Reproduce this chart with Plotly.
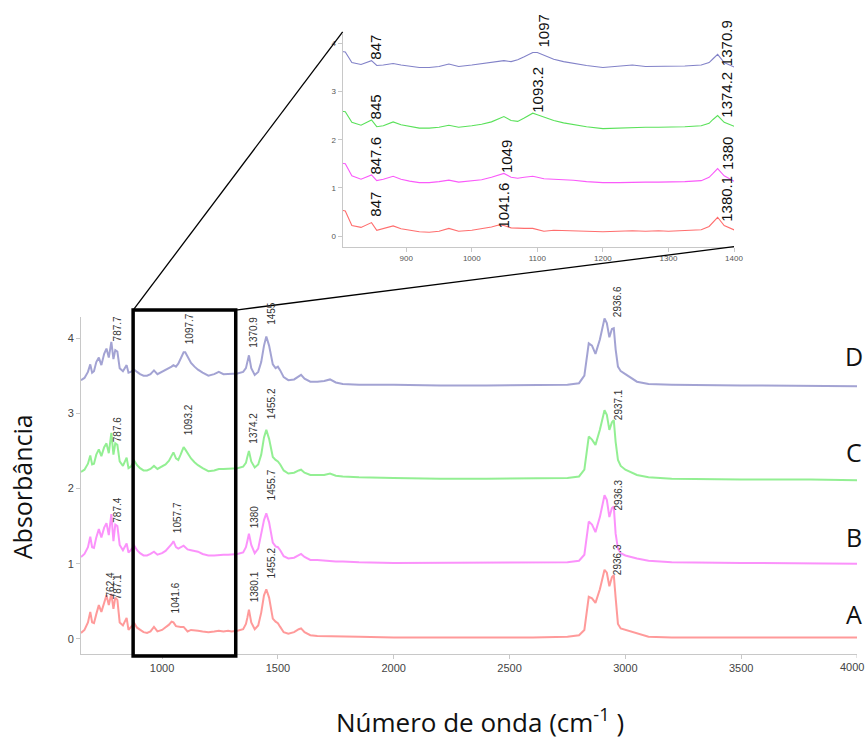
import plotly.graph_objects as go

# ---------------- data ----------------
wavenumber = [
    650, 665, 680, 690, 698, 706, 716, 727, 738, 750,
    760, 770, 781, 790, 798, 807, 817, 831, 847, 855,
    865, 880, 892, 905, 920, 935, 950, 965, 980, 1000,
    1015, 1030, 1041, 1049, 1060, 1070, 1080, 1093, 1100, 1110,
    1125, 1140, 1155, 1175, 1200, 1225, 1245, 1265, 1285, 1300,
    1325, 1350, 1362, 1368, 1375, 1385, 1400, 1415, 1428, 1440,
    1450, 1462, 1478, 1490, 1500, 1510, 1525, 1545, 1570, 1590,
    1600, 1615, 1640, 1670, 1700, 1725, 1750, 1780, 1850, 2000,
    2200, 2400, 2600, 2750, 2800, 2823, 2842, 2856, 2871, 2890,
    2910, 2920, 2931, 2942, 2950, 2958, 2968, 2980, 3000, 3020,
    3050, 3100, 3200, 3500, 3800, 4000,
]

abs_D = [
    3.44, 3.47, 3.55, 3.65, 3.54, 3.56, 3.68, 3.74, 3.64, 3.79,
    3.86, 3.74, 3.95, 3.72, 3.84, 3.82, 3.60, 3.56, 3.64, 3.54,
    3.55, 3.58, 3.55, 3.52, 3.50, 3.50, 3.52, 3.57, 3.52, 3.55,
    3.58, 3.60, 3.62, 3.64, 3.62, 3.66, 3.72, 3.81, 3.81, 3.75,
    3.67, 3.62, 3.58, 3.54, 3.50, 3.52, 3.55, 3.52, 3.52, 3.53,
    3.53, 3.55, 3.60, 3.68, 3.77, 3.60, 3.51, 3.55, 3.68, 3.90,
    4.02, 3.90, 3.65, 3.60, 3.62, 3.57, 3.48, 3.44, 3.45, 3.49,
    3.51, 3.46, 3.42, 3.42, 3.43, 3.45, 3.41, 3.39, 3.38, 3.38,
    3.37, 3.37, 3.37, 3.38, 3.40, 3.50, 3.93, 3.90, 3.79, 3.98,
    4.26, 4.20, 4.01, 4.12, 4.13, 3.85, 3.62, 3.56, 3.52, 3.48,
    3.42, 3.39, 3.38, 3.37, 3.36, 3.36,
]

abs_C = [
    2.22, 2.25, 2.33, 2.44, 2.32, 2.33, 2.45, 2.52, 2.43, 2.55,
    2.60, 2.47, 2.74, 2.45, 2.60, 2.58, 2.36, 2.30, 2.41, 2.27,
    2.29, 2.37, 2.31, 2.27, 2.24, 2.24, 2.26, 2.30, 2.26, 2.29,
    2.32, 2.37, 2.44, 2.48, 2.40, 2.38, 2.45, 2.55, 2.52, 2.47,
    2.40, 2.35, 2.31, 2.27, 2.23, 2.24, 2.26, 2.26, 2.26, 2.26,
    2.27, 2.29, 2.34, 2.42, 2.50, 2.36, 2.28, 2.32, 2.45, 2.68,
    2.78, 2.66, 2.42, 2.38, 2.36, 2.32, 2.24, 2.20, 2.21, 2.24,
    2.25, 2.21, 2.18, 2.18, 2.18, 2.20, 2.17, 2.16, 2.15, 2.14,
    2.13, 2.13, 2.13, 2.14, 2.16, 2.25, 2.69, 2.65, 2.58, 2.78,
    3.04, 2.98, 2.78, 2.88, 2.91, 2.62, 2.38, 2.30, 2.25, 2.22,
    2.18, 2.15, 2.13, 2.12, 2.12, 2.11,
]

abs_B = [
    1.09, 1.13, 1.22, 1.36, 1.22, 1.21, 1.35, 1.46, 1.35, 1.48,
    1.54, 1.38, 1.66, 1.30, 1.52, 1.50, 1.25, 1.18, 1.27, 1.15,
    1.18, 1.24, 1.18, 1.14, 1.11, 1.11, 1.13, 1.16, 1.12, 1.14,
    1.17, 1.22, 1.26, 1.30, 1.22, 1.20, 1.22, 1.24, 1.22, 1.19,
    1.18, 1.17, 1.16, 1.13, 1.11, 1.11, 1.12, 1.12, 1.12, 1.12,
    1.13, 1.15, 1.22, 1.30, 1.40, 1.25, 1.14, 1.20, 1.38, 1.58,
    1.67, 1.55, 1.28, 1.23, 1.22, 1.18, 1.10, 1.07, 1.08, 1.12,
    1.13, 1.09, 1.05, 1.05, 1.04, 1.04, 1.03, 1.03, 1.02, 1.01,
    1.01, 1.01, 1.01, 1.02, 1.04, 1.12, 1.56, 1.52, 1.42, 1.62,
    1.91, 1.85, 1.62, 1.74, 1.76, 1.40, 1.20, 1.14, 1.11, 1.09,
    1.07, 1.04, 1.02, 1.01, 1.00, 1.00,
]

abs_A = [
    0.08, 0.12, 0.22, 0.36, 0.22, 0.21, 0.33, 0.45, 0.36, 0.48,
    0.58, 0.45, 0.60, 0.40, 0.55, 0.52, 0.22, 0.18, 0.28, 0.12,
    0.16, 0.21, 0.15, 0.12, 0.09, 0.08, 0.10, 0.16, 0.10, 0.12,
    0.15, 0.19, 0.23, 0.22, 0.17, 0.16, 0.16, 0.16, 0.13, 0.10,
    0.12, 0.11, 0.11, 0.10, 0.09, 0.10, 0.11, 0.10, 0.11, 0.10,
    0.11, 0.13, 0.20, 0.28, 0.39, 0.22, 0.13, 0.18, 0.35, 0.58,
    0.66, 0.55, 0.27, 0.23, 0.21, 0.16, 0.09, 0.07, 0.09, 0.13,
    0.14, 0.09, 0.05, 0.04, 0.04, 0.04, 0.03, 0.03, 0.03, 0.02,
    0.02, 0.02, 0.02, 0.03, 0.05, 0.12, 0.56, 0.54, 0.48, 0.66,
    0.92, 0.88, 0.70, 0.82, 0.85, 0.55, 0.20, 0.14, 0.12, 0.10,
    0.07, 0.03, 0.02, 0.02, 0.02, 0.02,
]

series_names = ["A", "B", "C", "D"]
series_values = [abs_A, abs_B, abs_C, abs_D]
series_letter_y = [0.33, 1.35, 2.48, 3.76]

# peak labels on the main chart: (text, wavenumber, absorbance)
main_label_text = ["787.7", "1097.7", "1370.9", "1455", "2936.6",
                   "787.6", "1093.2", "1374.2", "1455.2", "2937.1",
                   "787.4", "1057.7", "1380", "1455.7", "2936.3",
                   "762.4", "787.1", "1041.6", "1380.1", "1455.2", "2936.3"]
main_label_x = [807, 1117, 1391, 1473, 2969,
                807, 1113, 1394, 1473, 2969,
                807, 1070, 1398, 1473, 2969,
                778, 807, 1056, 1398, 1473, 2969]
main_label_y = [4.12, 4.12, 4.08, 4.33, 4.48,
                2.78, 2.91, 2.80, 3.13, 3.11,
                1.71, 1.61, 1.62, 2.05, 1.91,
                0.72, 0.69, 0.54, 0.69, 1.01, 1.05]

# peak labels on the zoomed inset
inset_label_text = ["847", "1097", "1370.9",
                    "845", "1093.2", "1374.2",
                    "847.6", "1049", "1380",
                    "847", "1041.6", "1380.1"]
inset_label_x = [853, 1109, 1389,
                 853, 1099, 1389,
                 853, 1053, 1389,
                 853, 1048, 1389]
inset_label_y = [3.92, 4.25, 4.00,
                 2.68, 3.03, 2.93,
                 1.68, 1.65, 1.72,
                 0.66, 0.64, 0.77]

x_ticks = [1000, 1500, 2000, 2500, 3000, 3500, 4000]
y_ticks = [0, 1, 2, 3, 4]
inset_x_ticks = [900, 1000, 1100, 1200, 1300, 1400]

# ---------------- styles / layout ----------------
MAIN_X = [650, 4000]
MAIN_Y = [-0.2, 4.28]
INSET_X = [803, 1400]
INSET_Y = [-0.22, 4.2]
ZOOM_X = [875, 1318]

main_colors = {"A": "rgba(255,120,120,0.75)", "B": "rgba(250,110,250,0.75)",
               "C": "rgba(120,235,120,0.8)", "D": "rgba(140,140,200,0.8)"}
inset_colors = {"A": "rgb(255,110,110)", "B": "rgb(250,90,250)",
                "C": "rgb(90,225,90)", "D": "rgb(130,130,200)"}

MAIN_XDOM = [0.0, 1.0]
MAIN_YDOM = [0.0, 0.5233]
INSET_XDOM = [0.3372, 0.8415]
INSET_YDOM = [0.6325, 0.9632]


def to_paper(v, rng, dom):
    return dom[0] + (v - rng[0]) / (rng[1] - rng[0]) * (dom[1] - dom[0])


fig = go.Figure()

for name, vals in zip(series_names, series_values):
    fig.add_trace(go.Scatter(x=wavenumber, y=vals, mode="lines",
                             line=dict(color=main_colors[name], width=2),
                             xaxis="x", yaxis="y", showlegend=False,
                             hoverinfo="skip"))
for name, vals in zip(series_names, series_values):
    fig.add_trace(go.Scatter(x=wavenumber, y=vals, mode="lines",
                             line=dict(color=inset_colors[name], width=1.1),
                             xaxis="x2", yaxis="y2", showlegend=False,
                             hoverinfo="skip"))

annotations = []
for t, x, y in zip(main_label_text, main_label_x, main_label_y):
    annotations.append(dict(text=t, x=to_paper(x, MAIN_X, MAIN_XDOM),
                            y=to_paper(y, MAIN_Y, MAIN_YDOM),
                            xref="paper", yref="paper",
                            showarrow=False, textangle=-90,
                            xanchor="center", yanchor="middle",
                            font=dict(family="Liberation Sans", size=10, color="#333333")))
for t, x, y in zip(inset_label_text, inset_label_x, inset_label_y):
    annotations.append(dict(text=t, x=to_paper(x, INSET_X, INSET_XDOM),
                            y=to_paper(y, INSET_Y, INSET_YDOM),
                            xref="paper", yref="paper",
                            showarrow=False, textangle=-90,
                            xanchor="center", yanchor="middle",
                            font=dict(family="Liberation Sans", size=15, color="#111111")))
for name, ly in zip(series_names, series_letter_y):
    annotations.append(dict(text=name, x=to_paper(3987, MAIN_X, MAIN_XDOM),
                            y=to_paper(ly, MAIN_Y, MAIN_YDOM),
                            xref="paper", yref="paper",
                            showarrow=False, xanchor="center", yanchor="middle",
                            font=dict(family="Open Sans", size=25, color="#111111")))

# last x tick label sits at the page edge (plotly would hide it), keep it inside
annotations.append(dict(text=str(x_ticks[-1]), x=1.0114,
                        y=-0.0205, xref="paper", yref="paper", showarrow=False,
                        xanchor="right", yanchor="middle",
                        font=dict(family="Liberation Sans", size=11, color="#444444")))

annotations.append(dict(text="Absorbância", x=-0.076, y=0.259, xref="paper", yref="paper",
                        showarrow=False, textangle=-90, xanchor="center", yanchor="middle",
                        font=dict(family="Open Sans", size=25, color="#111111")))
annotations.append(dict(text="Número de onda (cm<sup>-1</sup> )", x=0.514, y=-0.104,
                        xref="paper", yref="paper", showarrow=False,
                        xanchor="center", yanchor="middle",
                        font=dict(family="Open Sans", size=26, color="#111111")))

# rectangle marking the zoomed range, and the connecting lines
rx0 = to_paper(ZOOM_X[0], MAIN_X, MAIN_XDOM)
rx1 = to_paper(ZOOM_X[1], MAIN_X, MAIN_XDOM)
ry0, ry1 = -0.003, 0.534
shapes = [
    dict(type="rect", xref="paper", yref="paper", x0=rx0, x1=rx1, y0=ry0, y1=ry1,
         line=dict(color="black", width=3.5)),
    dict(type="line", xref="paper", yref="paper", x0=rx0, y0=ry1,
         x1=INSET_XDOM[0], y1=INSET_YDOM[1] + 0.003, line=dict(color="black", width=1.3)),
    dict(type="line", xref="paper", yref="paper", x0=rx1, y0=ry1,
         x1=INSET_XDOM[1], y1=INSET_YDOM[0], line=dict(color="black", width=1.3)),
]

axis_common = dict(showline=True, linecolor="#c8c8c8", linewidth=1, ticks="outside",
                   tickcolor="#c8c8c8", ticklen=4, showgrid=False, zeroline=False,
                   automargin=False)

fig.update_layout(
    width=867, height=742,
    margin=dict(l=81, r=10, t=10, b=88, autoexpand=False),
    paper_bgcolor="white", plot_bgcolor="white",
    xaxis=dict(domain=MAIN_XDOM, range=MAIN_X, tickvals=x_ticks[:-1], anchor="y",
               tickfont=dict(family="Liberation Sans", size=11, color="#444444"),
               **axis_common),
    yaxis=dict(domain=MAIN_YDOM, range=MAIN_Y, tickvals=y_ticks, anchor="x",
               tickfont=dict(family="Liberation Sans", size=11, color="#444444"),
               **axis_common),
    xaxis2=dict(domain=INSET_XDOM, range=INSET_X, tickvals=inset_x_ticks, anchor="y2",
                tickfont=dict(family="Liberation Sans", size=8, color="#555555"),
                **axis_common),
    yaxis2=dict(domain=INSET_YDOM, range=INSET_Y, tickvals=y_ticks, anchor="x2",
                tickfont=dict(family="Liberation Sans", size=8, color="#555555"),
                **axis_common),
    annotations=annotations,
    shapes=shapes + [dict(type="line", xref="x", yref="paper",
                          x0=x_ticks[-1], x1=x_ticks[-1], y0=0, y1=-0.0062,
                          line=dict(color="#c8c8c8", width=1))],
    showlegend=False,
)

fig.write_html("out.html")
